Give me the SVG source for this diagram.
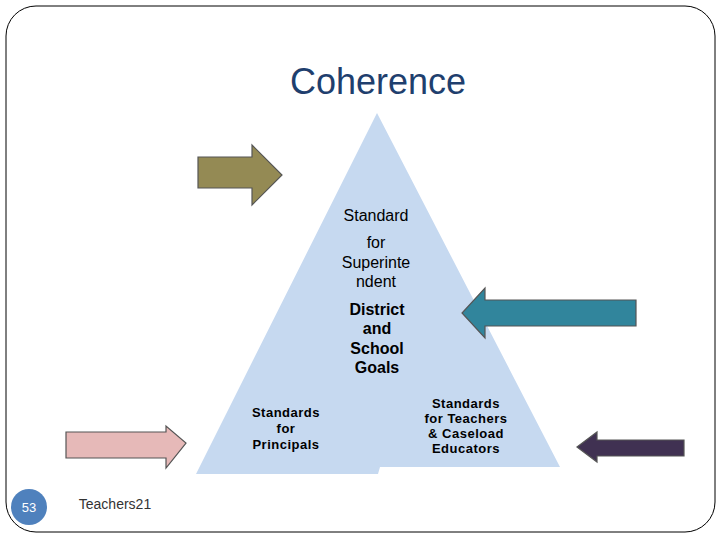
<svg xmlns="http://www.w3.org/2000/svg" width="720" height="540" viewBox="0 0 720 540">
<style>
.t{font-family:"Liberation Sans",Arial,sans-serif;fill:#000;text-anchor:middle}
.s{font-size:16px}
.b{font-size:16px;font-weight:bold}
.sm{font-size:13px;font-weight:bold;letter-spacing:0.5px}
.ar{stroke:#555;stroke-width:1.2}
</style>
<rect width="720" height="540" fill="#fff"/>
<rect x="6" y="6" width="709" height="526" rx="30" fill="none" stroke="#000" stroke-width="1"/>
<text class="t" x="378" y="94" style="font-size:36px;fill:#1f3f6e">Coherence</text>
<g id="triangle">
<polygon points="377,113 560,467 380,467 378,474 196,474" fill="#c6d9f0"/>
<text class="t s" x="376" y="221">Standard</text>
<text class="t s" x="376" y="248">for</text>
<text class="t s" x="376" y="268">Superinte</text>
<text class="t s" x="376" y="287">ndent</text>
<text class="t b" x="377" y="315">District</text>
<text class="t b" x="377" y="334">and</text>
<text class="t b" x="377" y="354">School</text>
<text class="t b" x="377" y="373">Goals</text>
<text class="t sm" x="286" y="417">Standards</text>
<text class="t sm" x="286" y="433">for</text>
<text class="t sm" x="286" y="449">Principals</text>
<text class="t sm" x="466" y="408">Standards</text>
<text class="t sm" x="466" y="423">for Teachers</text>
<text class="t sm" x="466" y="438">&amp; Caseload</text>
<text class="t sm" x="466" y="453">Educators</text>
</g>
<g id="arrows">
<polygon class="ar" points="198,157 252,157 252,145 282,175 252,205 252,188 198,188" fill="#948a54"/>
<polygon class="ar" points="636,300 485,300 485,288 462,313 485,338 485,326 636,326" fill="#31859c"/>
<polygon class="ar" points="66,432 166,432 166,426 186,443 166,468 166,458 66,458" fill="#e6b9b8"/>
<polygon class="ar" points="684,440 597,440 597,432 577,447 597,462 597,456 684,456" fill="#403152"/>
</g>
<g id="footer">
<circle cx="29" cy="507" r="18" fill="#4f81bd"/>
<text class="t" x="29" y="512" style="font-size:13px;fill:#fff">53</text>
<text class="t" x="115" y="509" style="font-size:14px;fill:#333">Teachers21</text>
</g>
</svg>
